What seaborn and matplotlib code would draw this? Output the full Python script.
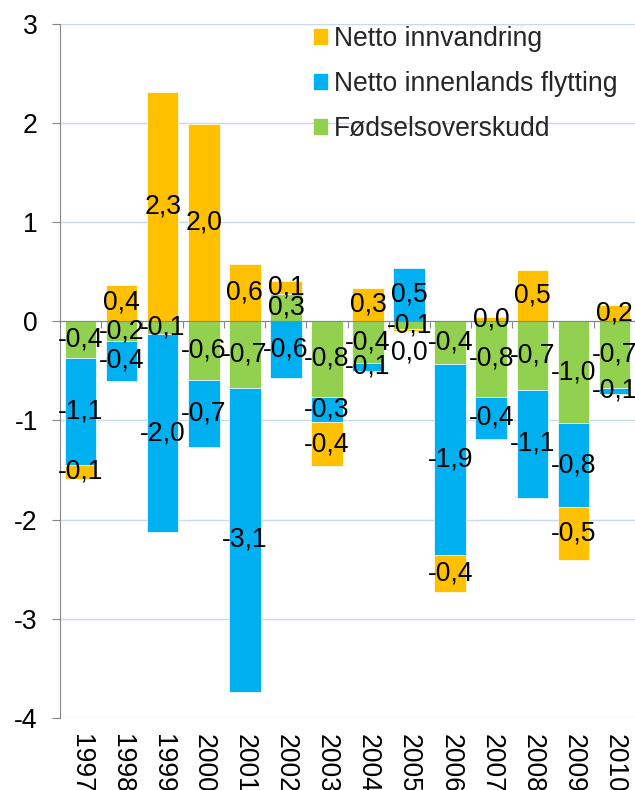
import numpy as np
import pandas as pd
import matplotlib.pyplot as plt
import matplotlib.patches as mpatches
import seaborn as sns

# data
years = [str(y) for y in range(1997, 2011)]
innvandring = [-0.14, 0.37, 2.31, 1.99, 0.58, 0.13, -0.44, 0.34, -0.02, -0.37, 0.04, 0.52, -0.54, 0.16]
innenlands = [-1.08, -0.40, -2.00, -0.68, -3.07, -0.57, -0.26, -0.08, 0.54, -1.93, -0.43, -1.09, -0.84, -0.06]
fodsel = [-0.37, -0.20, -0.13, -0.59, -0.67, 0.28, -0.76, -0.42, -0.08, -0.43, -0.76, -0.69, -1.03, -0.67]

legend_order = ["Netto innvandring", "Netto innenlands flytting", "Fødselsoverskudd"]
stack_order = ["Fødselsoverskudd", "Netto innenlands flytting", "Netto innvandring"]
colors = {
    "Netto innvandring": "#FFC000",
    "Netto innenlands flytting": "#00B0F0",
    "Fødselsoverskudd": "#92D050",
}

df = pd.DataFrame({
    "år": years,
    "Netto innvandring": innvandring,
    "Netto innenlands flytting": innenlands,
    "Fødselsoverskudd": fodsel,
})

sns.set_style("white")
plt.rcParams["font.family"] = ["Liberation Sans", "DejaVu Sans"]
plt.rcParams["axes.unicode_minus"] = False
fs = 19.1
grey = "#868686"


def fmt(v):
    s = f"{v:.1f}".replace(".", ",")
    return "0,0" if s == "-0,0" else s


fig = plt.figure(figsize=(6.35, 7.9), dpi=100)
ax = fig.add_axes([0.0945, 0.0915, 0.9055, 0.8781])

# stacked bars, positives and negatives stacked separately
pos = np.zeros(len(years))
neg = np.zeros(len(years))
for name in stack_order:
    vals = df[name].to_numpy()
    bottom = np.where(vals >= 0, pos, neg)
    sns.barplot(data=df, x="år", y=name, order=years, color=colors[name],
                saturation=1, width=0.77, errorbar=None, bottom=bottom,
                edgecolor="white", linewidth=0.5, ax=ax)
    pos += np.clip(vals, 0, None)
    neg += np.clip(vals, None, 0)
    anns = ax.bar_label(ax.containers[-1], labels=[fmt(v) for v in vals],
                        label_type="center", fontsize=fs, color="black")
    if name == "Netto innvandring":
        anns[years.index("2005")].xyann = (0, -16)

ax.set_ylim(-4, 3)
ax.set_yticks(range(-4, 4))
ax.set_xlim(-0.5, 13.34)
ax.set_xlabel("")
ax.set_ylabel("")
ax.yaxis.grid(True, color="#c6d9f1", linewidth=1)
ax.set_axisbelow(True)

# x axis line crosses at zero, ticks between categories
ax.spines["bottom"].set_position(("data", 0))
ax.spines["bottom"].set_color(grey)
ax.spines["left"].set_color(grey)
ax.spines["top"].set_visible(False)
ax.spines["right"].set_visible(False)
ax.set_xticks(np.arange(-0.5, 14, 1))
ax.set_xticklabels([])
ax.tick_params(axis="x", bottom=True, length=5, color=grey, direction="out")
ax.tick_params(axis="y", left=True, length=6, color=grey, direction="out",
               pad=10, labelsize=fs, labelcolor="black")

# year labels at the bottom of the plot area
sec = ax.secondary_xaxis("bottom")
sec.set_xticks(range(len(years)), labels=years, rotation=-90)
sec.tick_params(length=0, pad=12, labelsize=fs, labelcolor="black")
sec.spines["bottom"].set_visible(False)

handles = [mpatches.Patch(color=colors[n], label=n) for n in legend_order]
fig.legend(handles=handles, loc="upper left", bbox_to_anchor=(314 / 635, 1 - 26 / 790),
           frameon=False, fontsize=fs, handlelength=0.5, handleheight=0.5,
           handletextpad=0.25, labelspacing=0.71, borderaxespad=0, borderpad=0)

fig.savefig("out.png", dpi=100)
